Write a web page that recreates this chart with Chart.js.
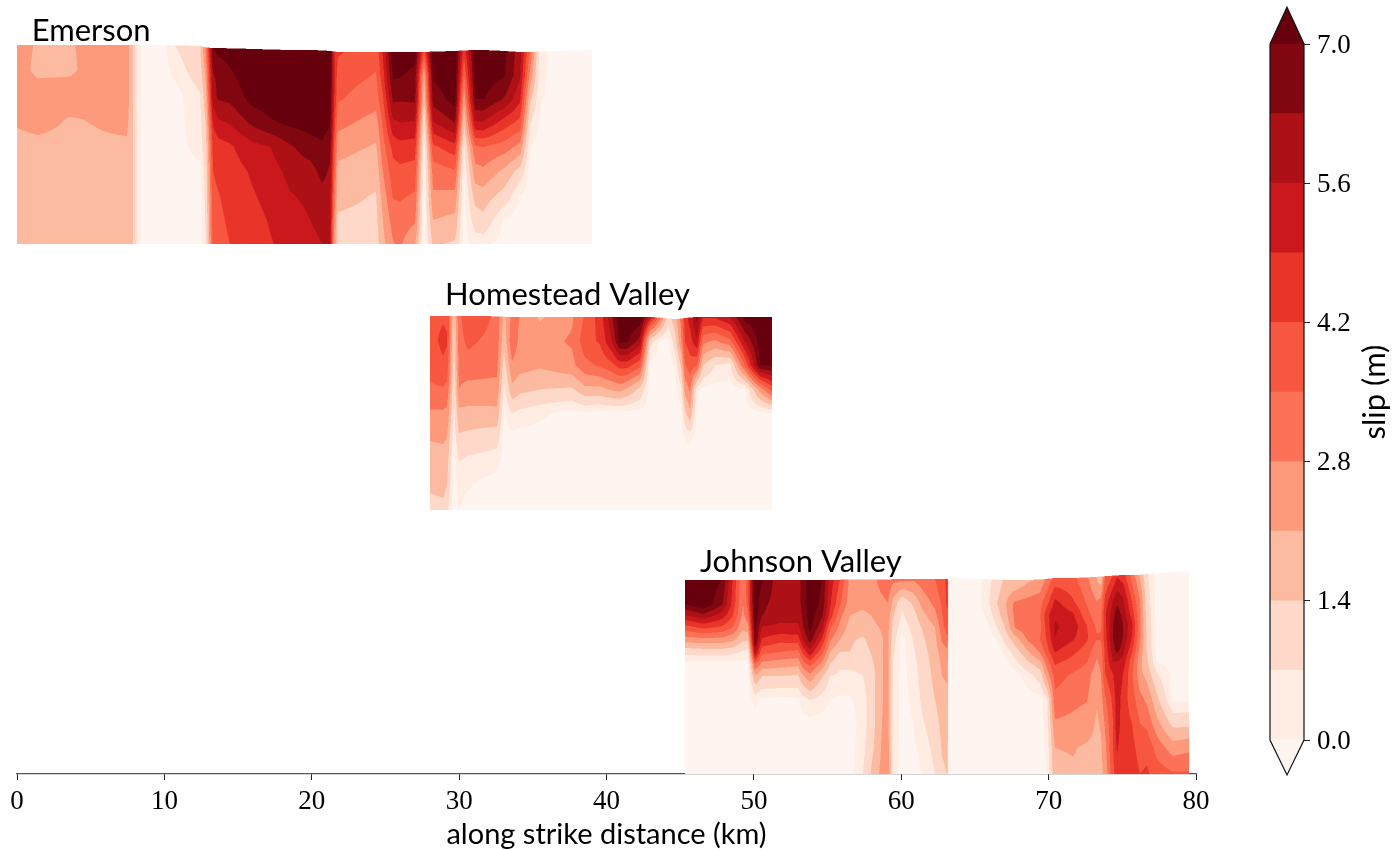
<!DOCTYPE html>
<html>
<head>
<meta charset="utf-8">
<script src="https://cdn.jsdelivr.net/npm/chart.js@4/dist/chart.umd.min.js"></script>
<style>
  body { margin: 0; background: #fff; }
  canvas { position: absolute; top: 0; }
  #main { left: 0; }
  #bar { left: 1250px; }
</style>
</head>
<body>
<canvas id="main" width="1394" height="850"></canvas>
<canvas id="bar" width="144" height="850"></canvas>
<script>
// slip levels, colours of the Reds map at each band
const levels = [0, 0.7, 1.4, 2.1, 2.8, 3.5, 4.2, 4.9, 5.6, 6.3, 7];
const bandColors = ["#ffede4", "#fed8c8", "#fcbba1", "#fc9a7b", "#fb7258", "#f6573e", "#e83429", "#cb181d", "#ad1116", "#800610"];
const underColor = "#fff5f0";
const overColor = "#67000d";
const underLimit = 0.2; // grid nodes read as zero, keeps the lightest edge from going blocky
const barTicks = [0, 1.4, 2.8, 4.2, 5.6, 7];
const xTicks = [0, 10, 20, 30, 40, 50, 60, 70, 80];

const faultNames = ["Emerson", "Homestead Valley", "Johnson Valley"];
const labelX = [1.0, 29.05, 46.35];
const labelY = [49.75, 31.82, 13.7];

// depth below the surface as a fraction of the panel
const evenRows = [0, 0.125, 0.25, 0.375, 0.5, 0.625, 0.75, 0.875, 1];
const johnsonRows = [0, 0.124, 0.186, 0.247, 0.309, 0.371, 0.433, 0.495, 0.619, 0.742, 0.866, 1];

const emersonKm = [0, 1.42, 3.6, 5.43, 7.46, 7.87, 8.14, 8.48, 9.91, 10.72, 12.42, 12.82, 13.3, 13.64, 14.45, 16.01, 17.17, 18.52, 19.88, 20.7, 21.24, 21.5, 21.78, 24.36, 24.83, 25.51, 25.99, 27.0, 27.62, 28.23, 29.72, 30.33, 31.08, 31.62, 33.11, 34.13, 34.81, 35.49, 36.5, 39];
const emersonTop = [49.47, 49.47, 49.47, 49.47, 49.47, 49.47, 49.47, 49.47, 49.47, 49.44, 49.4, 49.3, 49.26, 49.26, 49.24, 49.2, 49.16, 49.13, 49.13, 49.1, 49.06, 49.03, 48.99, 48.99, 48.99, 48.99, 48.99, 48.99, 48.99, 49.02, 49.06, 49.1, 49.13, 49.13, 49.06, 48.99, 48.99, 49.02, 49.06, 49.13];
const emersonBottom = 35.96;
const emersonSlip = [
  [2.45, 2.45, 2.4, 2.2, 1.9, 1.85, 1.8, 1.75, 1.75],
  [2.0, 1.9, 2.5, 2.35, 1.95, 1.85, 1.8, 1.8, 1.8],
  [2.0, 1.95, 2.5, 2.05, 1.9, 1.85, 1.85, 1.8, 1.8],
  [2.5, 2.5, 2.45, 2.15, 2.0, 1.9, 1.85, 1.85, 1.85],
  [2.5, 2.5, 2.5, 2.3, 2.0, 1.9, 1.9, 1.9, 1.9],
  [1.4, 1.4, 1.4, 1.4, 1.4, 1.4, 1.4, 1.4, 1.4],
  [0.6, 0.6, 0.6, 0.6, 0.6, 0.6, 0.6, 0.6, 0.6],
  [0, 0, 0, 0, 0, 0, 0, 0, 0],
  [0, 0, 0, 0, 0, 0, 0, 0, 0],
  [0.7, 0.35, 0, 0, 0, 0, 0, 0, 0],
  [1.3, 1.1, 0.65, 0.5, 0.4, 0.1, 0, 0, 0],
  [3.0, 2.4, 1.9, 1.5, 1.2, 1.0, 0.9, 0.8, 0.7],
  [7.0, 6.3, 6.0, 5.0, 4.4, 4.2, 4.0, 3.9, 3.7],
  [7.3, 6.4, 6.4, 5.5, 4.6, 4.4, 4.15, 4.0, 3.9],
  [7.4, 6.9, 6.5, 5.7, 4.8, 4.6, 4.5, 4.35, 4.2],
  [7.6, 7.5, 7.3, 6.5, 5.4, 5.0, 4.85, 4.7, 4.5],
  [7.6, 7.6, 7.4, 6.9, 5.6, 5.3, 5.1, 4.95, 4.85],
  [7.6, 7.6, 7.5, 7.15, 6.2, 5.8, 5.55, 5.3, 5.1],
  [7.6, 7.6, 7.5, 7.3, 6.7, 6.0, 5.75, 5.6, 5.4],
  [7.6, 7.6, 7.5, 7.3, 6.9, 6.5, 6.1, 5.8, 5.6],
  [7.5, 7.4, 7.2, 7.1, 6.5, 6.2, 6.0, 5.8, 5.6],
  [5.0, 5.2, 5.0, 4.7, 4.2, 3.8, 3.4, 3.0, 2.6],
  [4.3, 3.8, 3.55, 3.0, 2.35, 1.9, 1.6, 1.3, 1.15],
  [3.7, 3.45, 3.1, 2.45, 2.0, 1.6, 1.35, 1.2, 1.05],
  [5.0, 4.6, 4.1, 3.6, 3.2, 2.8, 2.4, 2.1, 1.9],
  [7.5, 7.1, 6.4, 5.4, 4.4, 3.9, 3.55, 3.1, 2.75],
  [7.6, 7.05, 6.35, 5.55, 4.6, 4.0, 3.6, 3.2, 2.9],
  [7.4, 6.7, 6.4, 5.5, 4.5, 3.9, 3.4, 2.9, 2.2],
  [4.0, 2.1, 1.5, 0.7, 0.3, 0.1, 0, 0, 0],
  [7.6, 7.1, 6.6, 5.5, 4.0, 3.1, 2.7, 2.1, 1.5],
  [7.6, 7.5, 7.3, 6.3, 4.6, 3.4, 2.6, 1.9, 1.3],
  [4.5, 3.5, 2.3, 1.4, 0.6, 0.2, 0, 0, 0],
  [7.3, 7.2, 7.0, 5.5, 3.4, 2.5, 1.7, 1.0, 0.4],
  [7.6, 7.5, 7.05, 5.55, 3.5, 2.65, 1.8, 1.2, 0.35],
  [7.1, 7.05, 6.2, 4.5, 3.1, 1.9, 1.1, 0.1, 0],
  [5.9, 5.7, 5.0, 3.9, 2.5, 1.1, 0.15, 0, 0],
  [3.4, 2.6, 1.5, 0.7, 0.2, 0, 0, 0, 0],
  [0.4, 0.35, 0.25, 0.1, 0, 0, 0, 0, 0],
  [0, 0, 0, 0, 0, 0, 0, 0, 0],
  [0, 0, 0, 0, 0, 0, 0, 0, 0]
];

const homesteadKm = [28.02, 28.91, 29.18, 29.31, 29.65, 29.99, 30.6, 31.55, 32.57, 33.05, 33.59, 34.13, 35.49, 37.66, 38.54, 39.56, 40.37, 40.92, 41.39, 42.27, 42.95, 43.63, 44.17, 44.65, 45.05, 45.33, 45.67, 46.14, 46.55, 47.36, 48.38, 49.4, 50.42, 51.23];
const homesteadTop = [31.08, 31.08, 31.08, 31.08, 31.08, 31.08, 31.08, 31.08, 31.05, 31.03, 31.01, 31.01, 31.01, 31.01, 31.01, 31.01, 31.01, 31.01, 31.01, 31.01, 31.01, 30.98, 30.92, 30.87, 30.9, 30.94, 30.98, 31.01, 31.01, 31.01, 31.01, 31.01, 31.01, 31.01];
const homesteadBottom = 17.91;
const homesteadSlip = [
  [3.9, 3.9, 3.7, 3.4, 2.7, 2.15, 1.8, 1.5, 1.15],
  [4.1, 4.4, 4.1, 3.45, 2.7, 2.2, 1.85, 1.6, 1.2],
  [4.0, 4.3, 3.9, 3.3, 2.6, 2.1, 1.7, 1.4, 1.0],
  [3.5, 3.4, 3.1, 2.7, 2.1, 1.6, 1.2, 0.9, 0.6],
  [1.4, 1.2, 1.1, 0.8, 0.6, 0.3, 0.1, 0, 0],
  [3.3, 3.2, 3.0, 2.8, 1.9, 1.3, 0.7, 0.35, 0.2],
  [4.0, 3.7, 3.2, 2.6, 1.9, 1.2, 0.55, 0.25, 0],
  [3.8, 3.45, 3.1, 2.6, 1.9, 1.1, 0.45, 0.1, 0],
  [3.3, 3.2, 3.0, 2.6, 1.9, 1.0, 0.35, 0, 0],
  [1.9, 1.6, 1.1, 0.5, 0.1, 0, 0, 0, 0],
  [3.0, 3.3, 2.7, 1.9, 0.7, 0, 0, 0, 0],
  [2.8, 2.6, 2.4, 1.6, 0.5, 0, 0, 0, 0],
  [2.0, 2.5, 2.2, 1.4, 0.3, 0, 0, 0, 0],
  [2.7, 2.9, 2.6, 1.3, 0, 0, 0, 0, 0],
  [3.6, 3.9, 3.3, 1.9, 0.1, 0, 0, 0, 0],
  [4.5, 4.3, 3.6, 1.9, 0, 0, 0, 0, 0],
  [6.2, 5.6, 4.0, 2.2, 0, 0, 0, 0, 0],
  [7.6, 7.2, 4.5, 2.3, 0, 0, 0, 0, 0],
  [7.7, 7.15, 4.5, 2.0, 0, 0, 0, 0, 0],
  [7.6, 6.0, 3.7, 1.2, 0, 0, 0, 0, 0],
  [5.4, 1.0, 0, 0, 0, 0, 0, 0, 0],
  [3.0, 0.1, 0, 0, 0, 0, 0, 0, 0],
  [1.0, 0, 0, 0, 0, 0, 0, 0, 0],
  [1.8, 1.0, 0.2, 0, 0, 0, 0, 0, 0],
  [3.0, 2.6, 1.4, 0.5, 0, 0, 0, 0, 0],
  [4.6, 4.2, 3.4, 2.3, 1.2, 0.2, 0, 0, 0],
  [5.2, 4.6, 3.9, 2.9, 1.9, 0.3, 0, 0, 0],
  [6.5, 5.5, 3.5, 0.3, 0, 0, 0, 0, 0],
  [5.0, 3.0, 1.4, 0.1, 0, 0, 0, 0, 0],
  [5.0, 2.7, 0.7, 0, 0, 0, 0, 0, 0],
  [5.6, 3.3, 0.5, 0, 0, 0, 0, 0, 0],
  [7.3, 5.7, 3.6, 0.1, 0, 0, 0, 0, 0],
  [7.6, 7.3, 7.0, 2.4, 0, 0, 0, 0, 0],
  [7.6, 7.5, 7.1, 3.8, 0.1, 0, 0, 0, 0]
];

const johnsonKm = [45.33, 46.55, 47.84, 48.58, 49.26, 49.6, 50.08, 50.55, 51.77, 52.99, 53.33, 53.81, 54.62, 55.17, 55.84, 56.52, 57.4, 58.22, 58.76, 59.1, 59.44, 60.05, 60.8, 61.48, 62.29, 62.76, 63.1, 63.15, 63.2, 65.21, 65.89, 66.5, 67.04, 67.72, 68.6, 69.41, 69.89, 70.43, 71.65, 72.6, 73.28, 73.55, 73.83, 74.37, 74.64, 75.05, 75.66, 76.2, 76.67, 77.35, 78.44, 79.53];
const johnsonTop = [13.16, 13.16, 13.16, 13.16, 13.16, 13.16, 13.16, 13.16, 13.16, 13.16, 13.16, 13.16, 13.18, 13.18, 13.18, 13.2, 13.2, 13.2, 13.2, 13.2, 13.22, 13.22, 13.23, 13.23, 13.23, 13.23, 13.23, 13.23, 13.3, 13.25, 13.22, 13.2, 13.18, 13.16, 13.16, 13.2, 13.24, 13.3, 13.3, 13.34, 13.38, 13.4, 13.42, 13.46, 13.48, 13.5, 13.5, 13.52, 13.56, 13.62, 13.7, 13.77];
const johnsonBottom = 0;
const johnsonSlip = [
  [7.6, 7.0, 5.4, 3.8, 2.4, 0.9, 0, 0, 0, 0, 0, 0],
  [7.6, 7.6, 6.0, 4.3, 2.5, 1.0, 0, 0, 0, 0, 0, 0],
  [7.0, 6.4, 5.2, 4.0, 2.5, 1.0, 0, 0, 0, 0, 0, 0],
  [4.8, 4.6, 4.2, 3.4, 2.2, 0.9, 0, 0, 0, 0, 0, 0],
  [2.9, 2.8, 2.6, 2.2, 1.5, 0.6, 0, 0, 0, 0, 0, 0],
  [4.0, 3.8, 3.3, 2.5, 1.5, 0.5, 0, 0, 0, 0, 0, 0],
  [7.6, 7.5, 7.4, 7.2, 7.05, 5.8, 3.5, 2.0, 0.3, 0, 0, 0],
  [7.1, 6.5, 6.3, 5.5, 4.8, 3.7, 2.6, 1.4, 0.1, 0, 0, 0],
  [5.8, 5.9, 5.85, 5.4, 4.4, 3.5, 2.4, 1.4, 0, 0, 0, 0],
  [6.0, 6.2, 5.9, 5.4, 4.5, 3.3, 2.3, 1.3, 0.1, 0, 0, 0],
  [6.6, 6.4, 6.4, 6.2, 5.6, 4.4, 3.2, 2.0, 0.4, 0, 0, 0],
  [7.6, 7.6, 7.4, 7.2, 6.6, 5.4, 3.7, 2.6, 0.7, 0, 0, 0],
  [7.0, 6.8, 6.4, 5.8, 4.8, 3.7, 2.6, 1.5, 0.4, 0, 0, 0],
  [5.3, 5.0, 4.6, 3.6, 2.9, 2.1, 1.4, 0.7, 0.2, 0, 0, 0],
  [4.2, 3.6, 3.0, 2.6, 2.1, 1.4, 0.8, 0.6, 0.1, 0, 0, 0],
  [2.6, 2.4, 2.1, 1.8, 1.5, 1.4, 0.9, 0.5, 0.15, 0, 0, 0],
  [2.7, 2.3, 1.9, 1.7, 1.3, 1.1, 0.95, 0.7, 0.4, 0.4, 0.5, 0.7],
  [2.7, 2.5, 2.2, 2.0, 1.8, 1.6, 1.45, 1.4, 1.4, 1.4, 1.5, 1.8],
  [3.2, 2.6, 2.4, 2.2, 2.1, 2.1, 2.1, 2.1, 2.1, 2.2, 2.3, 2.4],
  [3.3, 2.8, 2.5, 2.3, 2.2, 2.2, 2.2, 2.2, 2.2, 2.3, 2.4, 2.7],
  [3.0, 1.9, 1.5, 1.2, 1.0, 0.8, 0.7, 0.65, 0.6, 0.6, 0.55, 0.5],
  [3.0, 0.8, 0.6, 0.35, 0, 0, 0, 0, 0, 0, 0, 0],
  [2.9, 1.5, 1.1, 0.9, 0.72, 0.6, 0.5, 0.45, 0.3, 0.2, 0.1, 0],
  [3.2, 2.4, 1.9, 1.5, 1.3, 1.15, 1.0, 0.95, 0.85, 0.65, 0.4, 0.2],
  [3.5, 3.0, 2.6, 2.1, 1.9, 1.8, 1.7, 1.6, 1.4, 1.1, 0.9, 0.7],
  [4.0, 3.6, 3.4, 3.2, 2.9, 2.4, 2.2, 2.1, 1.8, 1.6, 1.45, 1.3],
  [4.3, 4.3, 4.1, 3.8, 3.3, 2.6, 2.3, 2.2, 1.9, 1.7, 1.5, 1.4],
  [4.3, 4.3, 4.1, 3.8, 3.3, 2.6, 2.3, 2.2, 1.9, 1.7, 1.5, 1.4],
  [0, 0, 0, 0, 0, 0, 0, 0, 0, 0, 0, 0],
  [0, 0, 0, 0, 0, 0, 0, 0, 0, 0, 0, 0],
  [0.5, 0.6, 0.3, 0.1, 0, 0, 0, 0, 0, 0, 0, 0],
  [1.0, 1.4, 1.1, 0.7, 0.2, 0, 0, 0, 0, 0, 0, 0],
  [1.5, 2.0, 1.8, 1.4, 0.9, 0.3, 0.05, 0, 0, 0, 0, 0],
  [1.4, 3.0, 3.0, 2.8, 1.7, 1.0, 0.4, 0, 0, 0, 0, 0],
  [2.0, 3.1, 3.2, 3.3, 2.9, 2.0, 1.2, 0.4, 0, 0, 0, 0],
  [2.2, 3.3, 3.4, 3.3, 3.5, 2.9, 1.8, 1.0, 0, 0, 0, 0],
  [3.0, 4.0, 4.7, 4.5, 4.3, 3.9, 3.1, 2.4, 0.6, 0.4, 0.3, 0.2],
  [3.7, 5.1, 5.5, 5.7, 5.6, 5.0, 4.3, 3.8, 3.3, 2.7, 2.1, 1.9],
  [3.7, 4.3, 5.0, 5.3, 5.0, 4.4, 3.9, 3.4, 3.0, 2.6, 2.15, 2.0],
  [2.9, 3.4, 3.7, 4.2, 4.3, 3.9, 3.5, 3.1, 2.85, 2.45, 2.0, 1.9],
  [2.0, 2.8, 3.0, 3.3, 3.6, 3.0, 2.7, 2.4, 2.15, 2.0, 1.9, 1.8],
  [1.6, 3.0, 3.2, 3.4, 3.6, 3.2, 3.0, 2.8, 2.5, 2.2, 2.0, 1.9],
  [3.5, 4.4, 4.8, 4.7, 4.6, 4.4, 4.3, 4.2, 3.4, 2.9, 2.6, 2.3],
  [4.2, 5.6, 6.0, 6.3, 6.3, 6.0, 5.6, 4.9, 4.4, 4.2, 4.2, 4.0],
  [4.8, 6.1, 6.6, 6.95, 7.05, 6.7, 5.6, 5.5, 5.3, 5.3, 5.0, 4.6],
  [4.5, 5.7, 6.0, 6.3, 6.3, 5.9, 5.3, 4.9, 4.6, 4.5, 4.4, 4.4],
  [3.2, 4.1, 4.5, 5.0, 4.9, 4.4, 3.8, 3.6, 3.8, 4.2, 4.4, 4.6],
  [2.0, 2.8, 2.9, 3.0, 2.9, 2.6, 2.3, 2.3, 3.0, 3.5, 3.9, 4.2],
  [0.8, 1.0, 1.1, 1.2, 1.3, 1.35, 1.5, 1.8, 2.6, 3.3, 4.0, 4.3],
  [0, 0, 0, 0, 0, 0, 0.1, 0.7, 1.5, 2.3, 3.2, 3.9],
  [0, 0, 0, 0, 0, 0, 0, 0, 0, 1.1, 2.4, 3.6],
  [0, 0, 0, 0, 0, 0, 0, 0, 0, 1.1, 2.6, 3.6]
];

const faults = [
  { km: emersonKm, top: emersonTop, bottom: emersonBottom, rows: evenRows, slip: emersonSlip },
  { km: homesteadKm, top: homesteadTop, bottom: homesteadBottom, rows: evenRows, slip: homesteadSlip },
  { km: johnsonKm, top: johnsonTop, bottom: johnsonBottom, rows: johnsonRows, slip: johnsonSlip },
];

function hexToRgb(h) {
  return [parseInt(h.slice(1, 3), 16), parseInt(h.slice(3, 5), 16), parseInt(h.slice(5, 7), 16)];
}
const underRgb = hexToRgb(underColor);
const overRgb = hexToRgb(overColor);
const bandRgb = bandColors.map(hexToRgb);

function slipColor(v) {
  if (v <= underLimit) return underRgb;
  if (v >= levels[levels.length - 1]) return overRgb;
  return bandRgb[Math.min(Math.floor(v / 0.7), bandRgb.length - 1)];
}

// segment index + fraction of value in a sorted list
function locate(list, v) {
  let i = 0;
  while (i < list.length - 2 && list[i + 1] < v) i++;
  const f = (v - list[i]) / (list[i + 1] - list[i]);
  return [i, Math.max(0, Math.min(1, f))];
}

// filled contours: every sample goes through the chart's own scales
function drawFault(chart, fault) {
  const xs = chart.scales.x, ys = chart.scales.y;
  const ss = 2; // supersample
  const x0 = Math.floor(xs.getPixelForValue(fault.km[0]));
  const x1 = Math.ceil(xs.getPixelForValue(fault.km[fault.km.length - 1]));
  const y1 = Math.ceil(ys.getPixelForValue(fault.bottom));
  const y0 = Math.floor(ys.getPixelForValue(Math.max(...fault.top))) - 1;
  const w = (x1 - x0) * ss, h = (y1 - y0) * ss;
  const off = document.createElement("canvas");
  off.width = w; off.height = h;
  const octx = off.getContext("2d");
  const img = octx.createImageData(w, h);
  const yBottom = ys.getPixelForValue(fault.bottom);
  for (let px = 0; px < w; px++) {
    const sx = x0 + (px + 0.5) / ss;
    const km = xs.getValueForPixel(sx);
    if (km < fault.km[0] || km > fault.km[fault.km.length - 1]) continue;
    const [i, f] = locate(fault.km, km);
    const surf = fault.top[i] + (fault.top[i + 1] - fault.top[i]) * f;
    const yTop = ys.getPixelForValue(surf);
    for (let py = 0; py < h; py++) {
      const sy = y0 + (py + 0.5) / ss;
      if (sy < yTop || sy > yBottom) continue;
      const [r, g] = locate(fault.rows, (sy - yTop) / (yBottom - yTop));
      const a = fault.slip[i][r] + (fault.slip[i][r + 1] - fault.slip[i][r]) * g;
      const b = fault.slip[i + 1][r] + (fault.slip[i + 1][r + 1] - fault.slip[i + 1][r]) * g;
      const c = slipColor(a + (b - a) * f);
      const o = (py * w + px) * 4;
      img.data[o] = c[0]; img.data[o + 1] = c[1]; img.data[o + 2] = c[2]; img.data[o + 3] = 255;
    }
  }
  octx.putImageData(img, 0, 0);
  const ctx = chart.ctx;
  ctx.save();
  ctx.filter = "blur(0.5px)";
  ctx.drawImage(off, x0, y0, x1 - x0, y1 - y0);
  ctx.restore();
}

const contourPlugin = {
  id: "contours",
  beforeDatasetsDraw(chart) {
    faults.forEach((f) => drawFault(chart, f));
    const ctx = chart.ctx;
    ctx.save();
    ctx.fillStyle = "#000";
    ctx.font = "31px Lato";
    ctx.textBaseline = "alphabetic";
    faultNames.forEach((name, i) => {
      ctx.fillText(name, chart.scales.x.getPixelForValue(labelX[i]), chart.scales.y.getPixelForValue(labelY[i]));
    });
    ctx.restore();
  },
};

new Chart(document.getElementById("main"), {
  type: "scatter",
  data: {
    datasets: faults.map((f, n) => ({
      label: faultNames[n],
      pointRadius: 0,
      data: f.km.map((km, i) => ({ x: km, y: f.top[i] })),
    })),
  },
  options: {
    responsive: false,
    animation: false,
    layout: { padding: { left: 17, right: 198, top: 0, bottom: 0 } },
    plugins: { legend: { display: false }, tooltip: { enabled: false } },
    scales: {
      x: {
        type: "linear",
        min: 0,
        max: 80,
        afterBuildTicks: (s) => { s.ticks = xTicks.map((v) => ({ value: v })); },
        afterFit: (s) => { s.height = 76; },
        border: { color: "#555", width: 1.2 },
        grid: { drawOnChartArea: false, drawTicks: true, tickLength: 6, tickColor: "#222" },
        ticks: { color: "#000", padding: 6, maxRotation: 0, font: { family: "Liberation Serif", size: 27 } },
        title: { display: true, text: "along strike distance (km)", color: "#000", padding: { top: 0, bottom: -2 }, font: { family: "Lato", size: 29 } },
      },
      y: { type: "linear", display: false, min: 0, max: 52.52 },
    },
  },
  plugins: [contourPlugin],
});

// colour bar with its extend triangles and rotated title
const barPlugin = {
  id: "extendTriangles",
  afterDatasetsDraw(chart) {
    const { ctx, chartArea: a, scales } = chart;
    const y = scales.y;
    const mid = (a.left + a.right) / 2;
    const topTip = y.getPixelForValue(7.37);
    const botTip = y.getPixelForValue(-0.352);
    ctx.save();
    ctx.beginPath();
    ctx.moveTo(a.left, a.top); ctx.lineTo(mid, topTip); ctx.lineTo(a.right, a.top); ctx.closePath();
    ctx.fillStyle = overColor; ctx.fill();
    ctx.beginPath();
    ctx.moveTo(a.left, a.bottom); ctx.lineTo(mid, botTip); ctx.lineTo(a.right, a.bottom); ctx.closePath();
    ctx.fillStyle = underColor; ctx.fill();
    ctx.beginPath();
    ctx.moveTo(a.left, a.top); ctx.lineTo(mid, topTip); ctx.lineTo(a.right, a.top);
    ctx.lineTo(a.right, a.bottom); ctx.lineTo(mid, botTip); ctx.lineTo(a.left, a.bottom); ctx.closePath();
    ctx.strokeStyle = "#111"; ctx.lineWidth = 1.2; ctx.stroke();
    ctx.translate(125, (a.top + a.bottom) / 2);
    ctx.rotate(-Math.PI / 2);
    ctx.fillStyle = "#000";
    ctx.font = "31px Lato";
    ctx.textAlign = "center";
    ctx.textBaseline = "middle";
    ctx.fillText("slip (m)", 0, 0);
    ctx.restore();
  },
};

new Chart(document.getElementById("bar"), {
  type: "bar",
  data: {
    labels: ["slip"],
    datasets: bandColors.map((c, i) => ({
      data: [[levels[i], levels[i + 1]]],
      backgroundColor: c,
      barPercentage: 1,
      categoryPercentage: 1,
    })),
  },
  options: {
    responsive: false,
    animation: false,
    layout: { padding: { left: 20, right: 0, top: 44, bottom: 110 } },
    plugins: { legend: { display: false }, tooltip: { enabled: false } },
    scales: {
      x: { stacked: true, display: false },
      y: {
        position: "right",
        min: 0,
        max: 7,
        afterBuildTicks: (s) => { s.ticks = barTicks.map((v) => ({ value: v })); },
        afterFit: (s) => { s.width = 90; },
        border: { display: false },
        grid: { drawOnChartArea: false, tickLength: 6, tickColor: "#222" },
        ticks: { color: "#000", padding: 7, labelOffset: 1.5, callback: (v) => v.toFixed(1), font: { family: "Liberation Serif", size: 27 } },
      },
    },
  },
  plugins: [barPlugin],
});
</script>
</body>
</html>
